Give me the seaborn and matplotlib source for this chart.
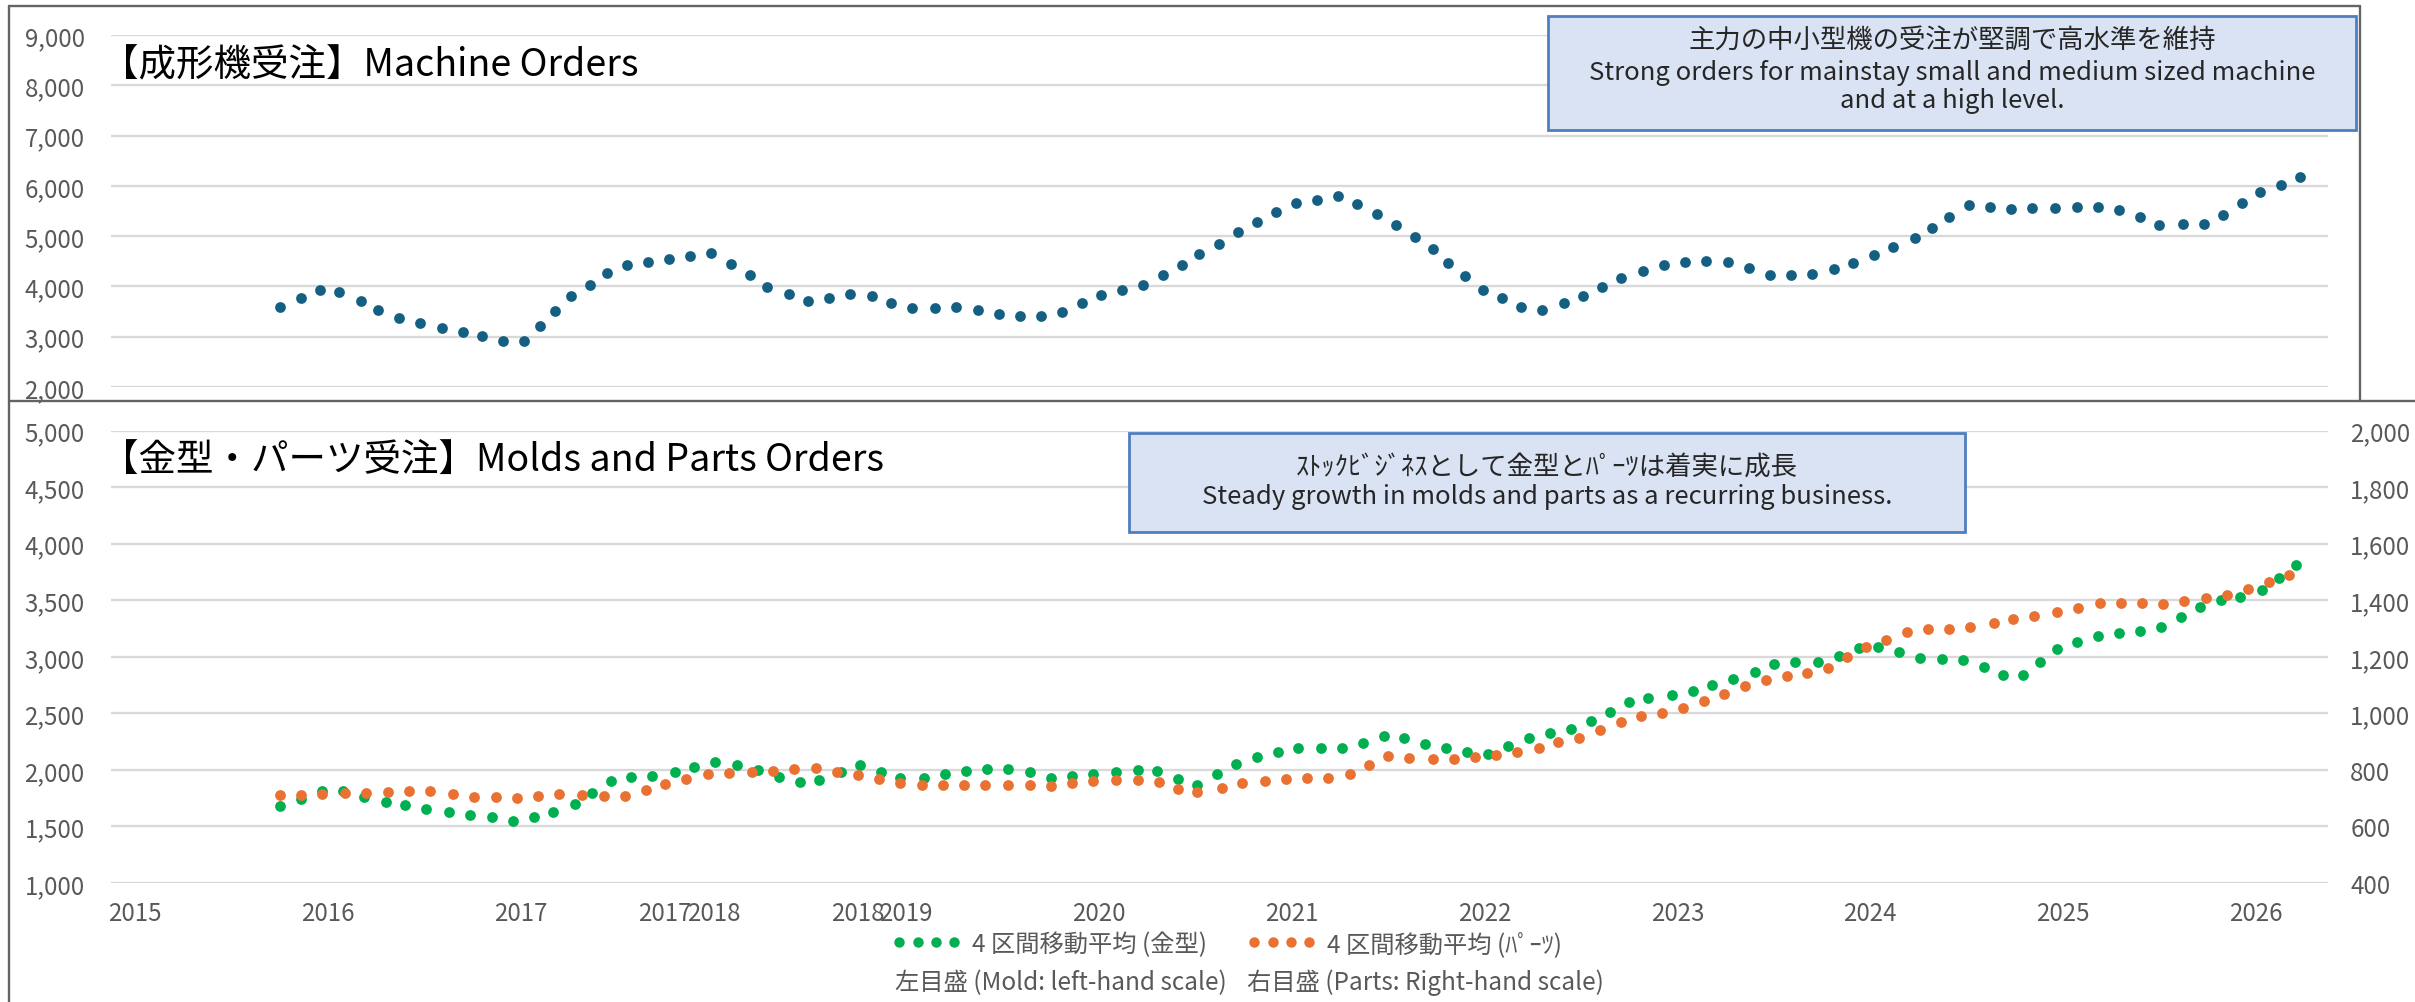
import matplotlib
matplotlib.use("Agg")
import matplotlib.pyplot as plt
import seaborn as sns
import pandas as pd
from matplotlib.patches import Rectangle
from matplotlib.lines import Line2D
from matplotlib.ticker import FuncFormatter, MultipleLocator

# ---------------- data ----------------
machine_x = [2015.75, 2015.86, 2015.96, 2016.06, 2016.17, 2016.26, 2016.37, 2016.48, 2016.59, 2016.70,
             2016.80, 2016.91, 2017.02, 2017.10, 2017.18, 2017.26, 2017.36, 2017.45, 2017.55, 2017.66,
             2017.77, 2017.88, 2017.99, 2018.09, 2018.19, 2018.28, 2018.39, 2018.49, 2018.60, 2018.71,
             2018.82, 2018.92, 2019.03, 2019.15, 2019.26, 2019.37, 2019.48, 2019.59, 2019.70, 2019.81,
             2019.91, 2020.01, 2020.12, 2020.23, 2020.33, 2020.43, 2020.52, 2020.62, 2020.72, 2020.82,
             2020.92, 2021.02, 2021.13, 2021.24, 2021.34, 2021.44, 2021.54, 2021.64, 2021.73, 2021.81,
             2021.90, 2021.99, 2022.09, 2022.19, 2022.30, 2022.41, 2022.51, 2022.61, 2022.71, 2022.82,
             2022.93, 2023.04, 2023.15, 2023.26, 2023.37, 2023.48, 2023.59, 2023.70, 2023.81, 2023.91,
             2024.02, 2024.12, 2024.23, 2024.32, 2024.41, 2024.51, 2024.62, 2024.73, 2024.84, 2024.96,
             2025.07, 2025.18, 2025.29, 2025.40, 2025.50, 2025.62, 2025.73, 2025.83, 2025.93, 2026.02,
             2026.13, 2026.23]
machine_orders = [3590, 3760, 3930, 3890, 3710, 3530, 3380, 3270, 3170, 3090,
                  3010, 2910, 2910, 3210, 3510, 3810, 4030, 4260, 4420, 4480,
                  4550, 4600, 4660, 4450, 4220, 3990, 3850, 3710, 3770, 3850,
                  3800, 3670, 3570, 3580, 3590, 3530, 3460, 3420, 3420, 3500,
                  3670, 3830, 3920, 4020, 4220, 4430, 4640, 4850, 5080, 5280,
                  5480, 5660, 5720, 5790, 5630, 5440, 5230, 4980, 4750, 4470,
                  4210, 3930, 3760, 3600, 3540, 3680, 3800, 3990, 4170, 4310,
                  4420, 4480, 4500, 4480, 4360, 4230, 4230, 4250, 4340, 4470,
                  4630, 4790, 4960, 5170, 5390, 5620, 5580, 5540, 5550, 5560,
                  5570, 5570, 5520, 5380, 5230, 5240, 5250, 5420, 5660, 5870,
                  6010, 6170]

mold_x = [2015.75, 2015.86, 2015.97, 2016.08, 2016.19, 2016.30, 2016.40, 2016.51, 2016.63, 2016.74,
          2016.85, 2016.96, 2017.07, 2017.17, 2017.28, 2017.37, 2017.47, 2017.57, 2017.68, 2017.80,
          2017.90, 2018.01, 2018.12, 2018.23, 2018.34, 2018.45, 2018.55, 2018.66, 2018.76, 2018.87,
          2018.97, 2019.09, 2019.20, 2019.31, 2019.42, 2019.53, 2019.64, 2019.75, 2019.86, 2019.97,
          2020.09, 2020.20, 2020.30, 2020.41, 2020.51, 2020.61, 2020.71, 2020.82, 2020.93, 2021.03,
          2021.15, 2021.26, 2021.37, 2021.48, 2021.58, 2021.69, 2021.80, 2021.91, 2022.02, 2022.12,
          2022.23, 2022.34, 2022.45, 2022.55, 2022.65, 2022.75, 2022.85, 2022.97, 2023.08, 2023.18,
          2023.29, 2023.40, 2023.50, 2023.61, 2023.73, 2023.84, 2023.94, 2024.04, 2024.15, 2024.26,
          2024.37, 2024.48, 2024.59, 2024.69, 2024.79, 2024.88, 2024.97, 2025.07, 2025.18, 2025.29,
          2025.40, 2025.51, 2025.61, 2025.71, 2025.82, 2025.92, 2026.03, 2026.12, 2026.21]
mold_orders = [1680, 1740, 1810, 1810, 1760, 1720, 1690, 1650, 1630, 1600,
               1580, 1550, 1580, 1630, 1700, 1800, 1900, 1940, 1950, 1980,
               2030, 2070, 2040, 2000, 1940, 1890, 1910, 1980, 2040, 1980,
               1930, 1930, 1960, 1990, 2010, 2010, 1980, 1930, 1950, 1960,
               1980, 2000, 1990, 1920, 1870, 1960, 2050, 2110, 2160, 2190,
               2190, 2190, 2240, 2300, 2280, 2230, 2190, 2160, 2140, 2210,
               2280, 2330, 2360, 2430, 2510, 2600, 2640, 2660, 2700, 2750,
               2800, 2870, 2940, 2950, 2950, 3010, 3080, 3090, 3040, 2990,
               2980, 2970, 2910, 2840, 2840, 2950, 3070, 3130, 3180, 3210,
               3230, 3260, 3350, 3440, 3500, 3530, 3590, 3700, 3810]

parts_x = [2015.75, 2015.86, 2015.97, 2016.09, 2016.20, 2016.31, 2016.42, 2016.53, 2016.65, 2016.76,
           2016.87, 2016.98, 2017.09, 2017.20, 2017.32, 2017.43, 2017.54, 2017.65, 2017.75, 2017.86,
           2017.97, 2018.08, 2018.20, 2018.31, 2018.42, 2018.53, 2018.64, 2018.75, 2018.86, 2018.97,
           2019.08, 2019.19, 2019.30, 2019.41, 2019.53, 2019.64, 2019.75, 2019.86, 2019.97, 2020.09,
           2020.20, 2020.31, 2020.41, 2020.51, 2020.64, 2020.74, 2020.86, 2020.97, 2021.08, 2021.19,
           2021.30, 2021.40, 2021.50, 2021.61, 2021.73, 2021.84, 2021.95, 2022.06, 2022.17, 2022.28,
           2022.38, 2022.49, 2022.60, 2022.71, 2022.81, 2022.92, 2023.03, 2023.14, 2023.24, 2023.35,
           2023.46, 2023.57, 2023.67, 2023.78, 2023.88, 2023.98, 2024.08, 2024.19, 2024.30, 2024.41,
           2024.52, 2024.64, 2024.74, 2024.85, 2024.97, 2025.08, 2025.19, 2025.30, 2025.41, 2025.52,
           2025.63, 2025.74, 2025.85, 2025.96, 2026.07, 2026.17]
parts_orders = [710, 712, 716, 718, 719, 723, 727, 726, 715, 704,
                703, 701, 707, 714, 712, 706, 707, 729, 749, 767,
                784, 790, 794, 797, 802, 806, 794, 782, 767, 752,
                746, 746, 745, 745, 745, 745, 744, 753, 759, 763,
                764, 756, 731, 721, 735, 754, 762, 767, 770, 770,
                785, 819, 849, 842, 837, 839, 846, 853, 865, 879,
                897, 913, 941, 971, 989, 1003, 1020, 1044, 1069, 1095,
                1118, 1132, 1141, 1162, 1200, 1234, 1260, 1286, 1298, 1299,
                1305, 1320, 1332, 1343, 1358, 1373, 1390, 1392, 1389, 1386,
                1397, 1407, 1420, 1439, 1463, 1488]

year_ticks = [2015, 2016, 2017, 2017.75, 2018, 2018.75, 2019, 2020, 2021, 2022, 2023, 2024, 2025, 2026]
year_labels = ["2015", "2016", "2017", "2017", "2018", "2018", "2019", "2020", "2021", "2022",
               "2023", "2024", "2025", "2026"]

title_top = "【成形機受注】Machine Orders"
title_bottom = "【金型・パーツ受注】Molds and Parts Orders"
note_top = ["主力の中小型機の受注が堅調で高水準を維持",
            "Strong orders for mainstay small and medium sized machine",
            "and at a high level."]
note_bottom = ["ｽﾄｯｸﾋﾞｼﾞﾈｽとして金型とﾊﾟｰﾂは着実に成長",
               "Steady growth in molds and parts as a recurring business."]
legend_labels = ["4 区間移動平均 (金型)", "4 区間移動平均 (ﾊﾟｰﾂ)"]
scale_labels = ["左目盛 (Mold: left-hand scale)", "右目盛 (Parts: Right-hand scale)"]

# ---------------- style ----------------
sns.set_theme(style="white")
plt.rcParams["font.family"] = ["Noto Sans CJK JP", "DejaVu Sans"]

C_MACH = "#156082"
C_MOLD = "#00B050"
C_PART = "#E97132"
C_GRID = "#D9D9D9"
C_TICK = "#595959"
C_FRAME = "#646464"

W, H = 2415, 1003
fig = plt.figure(figsize=(W / 100, H / 100), dpi=100)
fig.patch.set_facecolor("white")

def fx(px):
    return px / W

def fy(py):
    return 1 - py / H

L, R = 111, 2328
ax_t = fig.add_axes([fx(L), fy(388), (R - L) / W, (388 - 36) / H])
ax_b = fig.add_axes([fx(L), fy(884), (R - L) / W, (884 - 431.6) / H])
ax_r = ax_b.twinx()

XLIM = (2014.8755, 2026.3744)
comma = FuncFormatter(lambda v, p: f"{int(v):,}")

df_m = pd.DataFrame({"x": machine_x, "y": machine_orders})
df_mold = pd.DataFrame({"x": mold_x, "y": mold_orders})
df_part = pd.DataFrame({"x": parts_x, "y": parts_orders})

S = 60
sns.scatterplot(data=df_m, x="x", y="y", ax=ax_t, color=C_MACH, s=S, linewidth=0, zorder=3)
sns.scatterplot(data=df_mold, x="x", y="y", ax=ax_b, color=C_MOLD, s=S, linewidth=0, zorder=3)
sns.scatterplot(data=df_part, x="x", y="y", ax=ax_r, color=C_PART, s=S, linewidth=0, zorder=3)

for ax in (ax_t, ax_b, ax_r):
    ax.set_xlim(*XLIM)
    ax.set_xlabel("")
    ax.set_ylabel("")
    for sp in ax.spines.values():
        sp.set_visible(False)
    ax.tick_params(length=0, labelsize=17.3, labelcolor=C_TICK)
    ax.yaxis.set_major_formatter(comma)

ax_t.set_ylim(2000, 9000)
ax_t.yaxis.set_major_locator(MultipleLocator(1000))
ax_t.set_xticks([])
ax_t.grid(axis="y", color=C_GRID, lw=1.7)
ax_t.grid(axis="x", visible=False)
ax_t.set_axisbelow(True)
ax_t.tick_params(axis="y", pad=19)

ax_b.set_ylim(1000, 5000)
ax_b.yaxis.set_major_locator(MultipleLocator(500))
ax_b.grid(axis="y", color=C_GRID, lw=1.7)
ax_b.grid(axis="x", visible=False)
ax_b.set_axisbelow(True)
ax_b.tick_params(axis="y", pad=19)
ax_b.set_xticks(year_ticks)
ax_b.set_xticklabels(year_labels)
ax_b.tick_params(axis="x", pad=12)

ax_r.set_ylim(400, 2000)
ax_r.yaxis.set_major_locator(MultipleLocator(200))
ax_r.grid(False)
ax_r.tick_params(axis="y", pad=16)

# ---------------- panel frames ----------------
fl = dict(color=C_FRAME, lw=1.7, transform=fig.transFigure)
fig.add_artist(Line2D([fx(9), fx(2360)], [fy(6.5), fy(6.5)], **fl))
fig.add_artist(Line2D([fx(2360), fx(2360)], [fy(6.5), fy(402)], **fl))
fig.add_artist(Line2D([fx(9), fx(9)], [fy(6.5), fy(1003)], **fl))
fig.add_artist(Line2D([fx(9), fx(2415)], [fy(402), fy(402)], **fl))

# ---------------- titles ----------------
fig.text(fx(101), fy(65), title_top, fontsize=27, color="black", ha="left", va="center")
fig.text(fx(101), fy(460), title_bottom, fontsize=27, color="black", ha="left", va="center")

# ---------------- note boxes ----------------
BOX_FC = "#DAE3F3"
BOX_EC = "#4F7EC0"
fig.add_artist(Rectangle((fx(1548), fy(131)), (2356 - 1548) / W, (131 - 17) / H,
                         transform=fig.transFigure, facecolor=BOX_FC, edgecolor=BOX_EC, lw=2, zorder=5))
for txt, yy, fs in zip(note_top, [40, 73, 101], [19, 18.5, 18.5]):
    fig.text(fx(1952), fy(yy), txt, fontsize=fs, color="#262626", ha="center", va="center", zorder=6)

fig.add_artist(Rectangle((fx(1129), fy(533)), (1965 - 1129) / W, (533 - 434) / H,
                         transform=fig.transFigure, facecolor=BOX_FC, edgecolor=BOX_EC, lw=2, zorder=5))
for txt, yy, fs in zip(note_bottom, [467, 497], [19, 18.5]):
    fig.text(fx(1547), fy(yy), txt, fontsize=fs, color="#262626", ha="center", va="center", zorder=6)

# ---------------- legend ----------------
for col, lab, x0 in [(C_MOLD, legend_labels[0], 892), (C_PART, legend_labels[1], 1247)]:
    h = Line2D([], [], ls="none", marker="o", color=col, markersize=7.5, markeredgewidth=0)
    fig.legend(handles=[h], labels=[lab], loc="center left", bbox_to_anchor=(fx(x0), fy(945)),
               frameon=False, numpoints=4, handlelength=2.86, handletextpad=0.43,
               fontsize=17.5, labelcolor=C_TICK, borderpad=0, borderaxespad=0)

fig.text(fx(895), fy(983), scale_labels[0], fontsize=17.5, color=C_TICK, ha="left", va="center")
fig.text(fx(1247), fy(983), scale_labels[1], fontsize=17.5, color=C_TICK, ha="left", va="center")

fig.savefig("out.png", dpi=100, facecolor="white")
